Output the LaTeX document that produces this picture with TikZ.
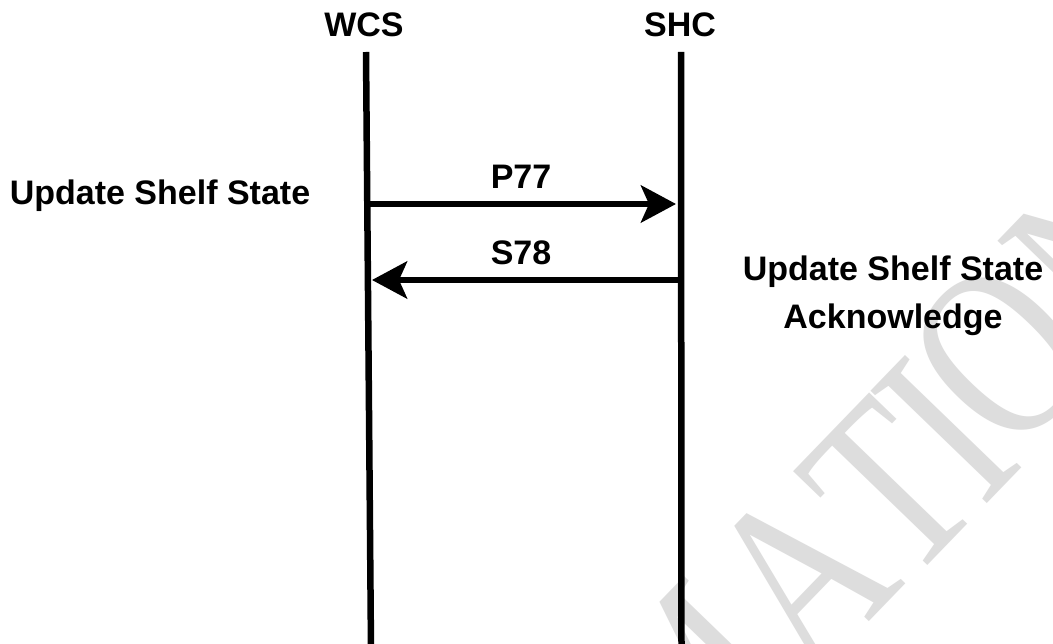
\documentclass[tikz,border=0pt]{standalone}
\usepackage{fontspec}
\setmainfont{Liberation Sans}
\newfontfamily\wmfont{Liberation Serif}
\usetikzlibrary{arrows.meta}
\definecolor{wmgray}{RGB}{221,221,221}
\begin{document}
\begin{tikzpicture}[x=1bp,y=-1bp,
  lbl/.style={font=\bfseries\fontsize{34bp}{47bp}\selectfont, inner sep=0pt, anchor=base, align=center},
  wm/.style={font=\wmfont\fontsize{190bp}{200bp}\selectfont, text=wmgray, inner sep=0pt, anchor=center, rotate=46, yscale=1.3},
  lifeline/.style={line width=6.5bp},
  msg/.style={line width=6.5bp, -{Stealth[length=35bp,width=37bp,inset=8bp]}}]
\useasboundingbox (0,0) rectangle (1053,644);
\clip (0,0) rectangle (1053,644);
\fill[white] (0,0) rectangle (1053,644);
% watermark letters
\node[wm] (wmM) at (688,690) {M};
\node[wm] (wmA) at (801,576) {A};
\node[wm] (wmT) at (890,489) {T};
\node[wm] (wmI) at (946,430) {I};
\node[wm] (wmO) at (1001,354) {O};
\node[wm] (wmN) at (1100,252) {N};
% headers
\node[lbl] (wcs) at (364,37) {WCS};
\node[lbl] (shc) at (680,37) {SHC};
% lifelines
\coordinate (wcsTop) at (366,52);
\coordinate (wcsBot) at (371,650);
\coordinate (shcTop) at (681,52);
\coordinate (shcBot) at (681.5,650);
\draw[lifeline] (wcsTop) -- (wcsBot);
\draw[lifeline] (shcTop) -- (shcBot);
% messages
\coordinate (p77s) at (370,204);
\coordinate (p77e) at (676,204);
\coordinate (s78s) at (678,280);
\coordinate (s78e) at (372,280);
\draw[msg] (p77s) -- (p77e);
\draw[msg] (s78s) -- (s78e);
\node[lbl] (p77) at (521,189) {P77};
\node[lbl] (s78) at (521,265) {S78};
% side labels
\node[lbl] (upd) at (160,205) {Update Shelf State};
\node[lbl] (ack) at (893,328) {Update Shelf State\\Acknowledge};
\end{tikzpicture}
\end{document}
